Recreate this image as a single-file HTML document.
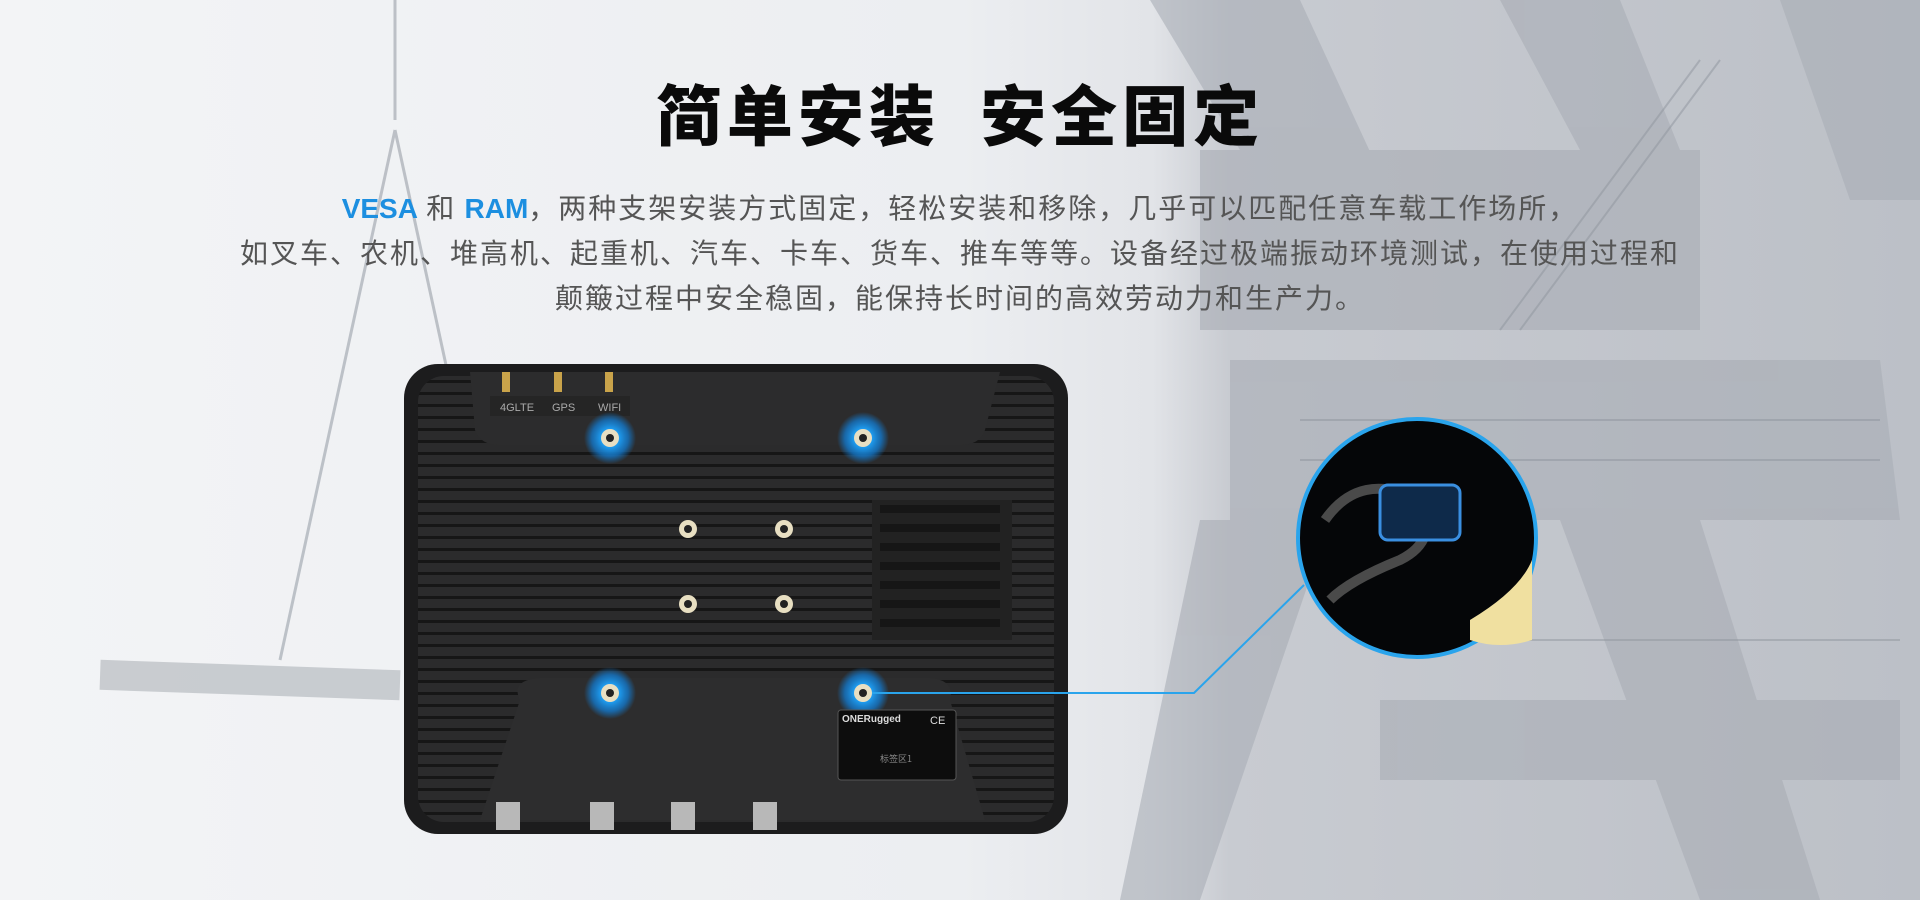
<!DOCTYPE html>
<html><head><meta charset="utf-8"><style>
html,body{margin:0;padding:0;width:1920px;height:900px;overflow:hidden;}
body{position:relative;background:linear-gradient(90deg,#f3f4f6 0%,#eceef1 50%,#e2e4e8 60%,#c8cbd1 64%,#bcc0c7 100%);font-family:"Liberation Sans","Noto Sans CJK SC",sans-serif;}
.abs{position:absolute;}
h1{position:absolute;left:0;width:1920px;top:64px;margin:0;text-align:center;font-size:66px;font-weight:900;color:#0a0a0a;letter-spacing:5px;font-family:"Noto Sans CJK SC",sans-serif;}
.p{position:absolute;left:0;width:1920px;text-align:center;font-size:28px;color:#555;letter-spacing:2px;font-family:"Noto Sans CJK SC",sans-serif;}
.p b{color:#1c8fe0;font-weight:700;font-family:"Liberation Sans",sans-serif;letter-spacing:0;}
</style></head><body>
<svg class="abs" style="left:0;top:0" width="1920" height="900">
 <g fill="#a9adb5" opacity="0.6">
  <polygon points="1150,0 1300,0 1420,260 1330,300"/>
  <polygon points="1200,150 1700,150 1700,330 1200,330"/>
  <polygon points="1230,360 1880,360 1900,520 1230,520"/>
  <polygon points="1200,520 1330,520 1200,900 1120,900"/>
  <polygon points="1560,520 1700,520 1820,900 1700,900"/>
  <polygon points="1380,700 1900,700 1900,780 1380,780"/>
  <polygon points="1500,0 1620,0 1680,150 1580,150"/>
  <polygon points="1780,0 1920,0 1920,200 1850,200"/>
 </g>
 <g stroke="#8f959e" stroke-width="2" opacity="0.5" fill="none">
  <line x1="1300" y1="420" x2="1880" y2="420"/><line x1="1300" y1="460" x2="1880" y2="460"/>
  <line x1="1700" y1="60" x2="1500" y2="330"/><line x1="1720" y1="60" x2="1520" y2="330"/>
  <line x1="1400" y1="640" x2="1900" y2="640"/>
 </g>
 <g stroke="#9aa0a8" stroke-width="3" opacity="0.6" fill="none">
  <line x1="395" y1="0" x2="395" y2="120"/>
  <line x1="395" y1="130" x2="280" y2="660"/>
  <line x1="395" y1="130" x2="510" y2="660"/>
 </g>
 <rect x="100" y="665" width="300" height="30" fill="#aeb2b8" opacity="0.6" transform="rotate(2 250 680)"/>
 <defs>
  <pattern id="ribs" x="0" y="0" width="10" height="12" patternUnits="userSpaceOnUse">
   <rect width="10" height="12" fill="#2b2b2c"/><rect y="8" width="10" height="3" fill="#161616"/>
  </pattern>
  <radialGradient id="glow"><stop offset="0.35" stop-color="#1e9cf0"/><stop offset="0.7" stop-color="#1477c8" stop-opacity="0.8"/><stop offset="1" stop-color="#1477c8" stop-opacity="0"/></radialGradient>
 </defs>
 <rect x="404" y="364" width="664" height="470" rx="34" fill="#1c1c1d"/>
 <rect x="418" y="376" width="636" height="446" rx="26" fill="url(#ribs)"/>
 <path d="M470,372 L1000,372 L985,430 Q980,445 960,445 L500,445 Q480,445 475,430 Z" fill="#2c2c2d"/>
 <path d="M520,700 Q510,680 540,678 L930,678 Q955,680 950,700 L985,820 L480,820 Z" fill="#2d2d2e"/>
 <rect x="872" y="500" width="140" height="140" fill="#222"/>
 <g fill="#161616">
  <rect x="880" y="505" width="120" height="8"/><rect x="880" y="524" width="120" height="8"/><rect x="880" y="543" width="120" height="8"/><rect x="880" y="562" width="120" height="8"/><rect x="880" y="581" width="120" height="8"/><rect x="880" y="600" width="120" height="8"/><rect x="880" y="619" width="120" height="8"/>
 </g>
 <rect x="490" y="396" width="140" height="20" fill="#252525"/>
 <text x="500" y="411" font-size="11" fill="#aaa" font-family="Liberation Sans">4GLTE</text>
 <text x="552" y="411" font-size="11" fill="#aaa" font-family="Liberation Sans">GPS</text>
 <text x="598" y="411" font-size="11" fill="#aaa" font-family="Liberation Sans">WIFI</text>
 <g fill="#c9a34a">
  <rect x="502" y="372" width="8" height="20"/><rect x="554" y="372" width="8" height="20"/><rect x="605" y="372" width="8" height="20"/>
 </g>
 <g>
  <circle cx="610" cy="438" r="26" fill="url(#glow)"/><circle cx="610" cy="438" r="9" fill="#e8dfc2"/><circle cx="610" cy="438" r="4" fill="#222"/>
  <circle cx="863" cy="438" r="26" fill="url(#glow)"/><circle cx="863" cy="438" r="9" fill="#e8dfc2"/><circle cx="863" cy="438" r="4" fill="#222"/>
  <circle cx="610" cy="693" r="26" fill="url(#glow)"/><circle cx="610" cy="693" r="9" fill="#e8dfc2"/><circle cx="610" cy="693" r="4" fill="#222"/>
  <circle cx="863" cy="693" r="26" fill="url(#glow)"/><circle cx="863" cy="693" r="9" fill="#e8dfc2"/><circle cx="863" cy="693" r="4" fill="#222"/>
 </g>
 <g>
  <circle cx="688" cy="529" r="9" fill="#e8dfc2"/><circle cx="688" cy="529" r="4" fill="#222"/>
  <circle cx="784" cy="529" r="9" fill="#e8dfc2"/><circle cx="784" cy="529" r="4" fill="#222"/>
  <circle cx="688" cy="604" r="9" fill="#e8dfc2"/><circle cx="688" cy="604" r="4" fill="#222"/>
  <circle cx="784" cy="604" r="9" fill="#e8dfc2"/><circle cx="784" cy="604" r="4" fill="#222"/>
 </g>
 <rect x="838" y="710" width="118" height="70" rx="3" fill="#0d0d0d" stroke="#555" stroke-width="1"/>
 <text x="842" y="722" font-size="10" fill="#ddd" font-weight="bold" font-family="Liberation Sans">ONERugged</text>
 <text x="930" y="724" font-size="11" fill="#ddd" font-family="Liberation Sans">CE</text>
 <text x="880" y="762" font-size="9" fill="#888" font-family="Noto Sans CJK SC">标签区1</text>
 <g fill="#b8b8b8">
  <rect x="496" y="802" width="24" height="28"/><rect x="590" y="802" width="24" height="28"/><rect x="671" y="802" width="24" height="28"/><rect x="753" y="802" width="24" height="28"/>
 </g>
 <polyline points="872,693 1194,693 1304,585" fill="none" stroke="#2aa4ec" stroke-width="2"/>
 <circle cx="1417" cy="538" r="119" fill="#050608" stroke="#2aa4ec" stroke-width="4"/>
 <path d="M1325,520 Q1360,470 1420,500 Q1440,540 1400,560 Q1350,580 1330,600" stroke="#4a4a4a" stroke-width="10" fill="none"/>
 <rect x="1380" y="485" width="80" height="55" rx="8" fill="#0e2a4a" stroke="#3a8fe0" stroke-width="3"/>
 <path d="M1470,620 Q1520,590 1532,560 L1532,640 Q1500,650 1470,640 Z" fill="#f0e0a0"/>
</svg>
<h1>简单安装&nbsp;&nbsp;安全固定</h1>
<div class="p" style="top:187px"><b>VESA</b> 和 <b>RAM</b>，两种支架安装方式固定，轻松安装和移除，几乎可以匹配任意车载工作场所，</div>
<div class="p" style="top:232px">如叉车、农机、堆高机、起重机、汽车、卡车、货车、推车等等。设备经过极端振动环境测试，在使用过程和</div>
<div class="p" style="top:277px">颠簸过程中安全稳固，能保持长时间的高效劳动力和生产力。</div>
</body></html>
